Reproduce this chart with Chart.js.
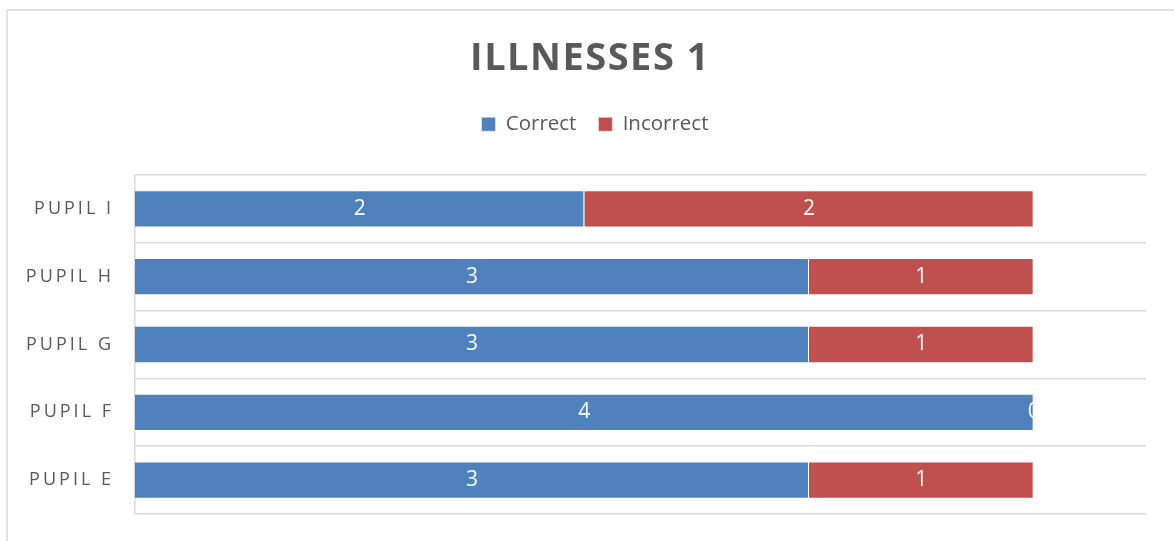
<!DOCTYPE html>
<html>
<head>
<meta charset="utf-8">
<script src="https://cdn.jsdelivr.net/npm/chart.js@4/dist/chart.umd.min.js"></script>
<style>
  html, body { margin: 0; padding: 0; background: #fff; }
  #wrap { width: 1174px; height: 541px; position: relative; }
</style>
</head>
<body>
<div id="wrap"><canvas id="barCanvas" width="1174" height="541"></canvas></div>
<script>
const chartTitle = 'ILLNESSES 1';
const pupils = ['PUPIL I', 'PUPIL H', 'PUPIL G', 'PUPIL F', 'PUPIL E'];
const correct = [2, 3, 3, 4, 3];
const incorrect = [2, 1, 1, 0, 1];
const seriesNames = ['Correct', 'Incorrect'];
const xMax = 4.5;

const FONT = '"Open Sans", sans-serif';
const GREY = '#595959';

/**
 * 外枠・タイトル・項目ラベル・データラベル
 */
const decorPlugin = {
  id: 'decor',
  beforeInit(chart) {
    // 凡例の下に余白
    const fit = chart.legend.fit;
    chart.legend.fit = function() {
      fit.bind(chart.legend)();
      this.height += 30.5;
    };
  },
  afterLayout(chart) {
    // 凡例を少し右へ
    chart.legend.left += 22;
    chart.legend.right += 22;
  },
  beforeDraw(chart) {
    const { ctx } = chart;
    ctx.save();
    ctx.strokeStyle = '#D9D9D9';
    ctx.lineWidth = 1.5;
    ctx.strokeRect(7, 10, 1400, 800);
    ctx.restore();
  },
  afterDraw(chart) {
    const { ctx, chartArea } = chart;
    const yScale = chart.scales.y;

    // タイトル
    ctx.save();
    ctx.letterSpacing = '1.5px';
    ctx.font = 'bold 38px ' + FONT;
    ctx.fillStyle = GREY;
    ctx.textAlign = 'center';
    ctx.textBaseline = 'alphabetic';
    ctx.fillText(chartTitle, 590, 70);
    ctx.restore();

    // 項目ラベル
    ctx.save();
    ctx.letterSpacing = '3px';
    ctx.font = '18px ' + FONT;
    ctx.fillStyle = GREY;
    ctx.textAlign = 'right';
    ctx.textBaseline = 'middle';
    pupils.forEach((label, i) => {
      ctx.fillText(label, chartArea.left - 21, yScale.getPixelForTick(i));
    });
    ctx.restore();

    // データラベル（白）
    ctx.save();
    ctx.font = '21px ' + FONT;
    ctx.fillStyle = '#FFFFFF';
    ctx.textAlign = 'center';
    ctx.textBaseline = 'middle';
    chart.data.datasets.forEach((ds, di) => {
      chart.getDatasetMeta(di).data.forEach((bar, i) => {
        const { x, base, y } = bar.getProps(['x', 'base', 'y'], true);
        ctx.fillText(String(ds.data[i]), (x + base) / 2, y);
      });
    });
    ctx.restore();
  }
};

document.addEventListener('DOMContentLoaded', function() {
  const ctx = document.getElementById('barCanvas').getContext('2d');

  const config = {
    type: 'bar',
    data: {
      labels: pupils,
      datasets: [
        {
          label: seriesNames[0],
          data: correct,
          backgroundColor: '#4F81BD',
          borderColor: 'rgba(255,255,255,0.5)',
          borderWidth: 1
        },
        {
          label: seriesNames[1],
          data: incorrect,
          backgroundColor: '#C0504D',
          borderColor: 'rgba(255,255,255,0.5)',
          borderWidth: 1
        }
      ]
    },
    options: {
      indexAxis: 'y',
      responsive: false,
      animation: false,
      layout: { padding: { top: 92, left: 0, right: 28, bottom: 27 } },
      datasets: {
        bar: { categoryPercentage: 1, barPercentage: 0.55 }
      },
      scales: {
        x: {
          stacked: true,
          min: 0,
          max: xMax,
          display: false
        },
        y: {
          stacked: true,
          ticks: { display: false },
          grid: { color: '#D9D9D9', lineWidth: 1.5, drawTicks: false },
          border: { display: true, color: '#D9D9D9', width: 1.5 },
          afterFit(scale) { scale.width = 135; }
        }
      },
      plugins: {
        title: { display: false },
        tooltip: { enabled: false },
        legend: {
          position: 'top',
          labels: {
            boxWidth: 14,
            boxHeight: 14,
            padding: 22,
            color: GREY,
            font: { family: FONT, size: 20.5 }
          }
        }
      }
    },
    plugins: [decorPlugin]
  };

  new Chart(ctx, config);
});
</script>
</body>
</html>
